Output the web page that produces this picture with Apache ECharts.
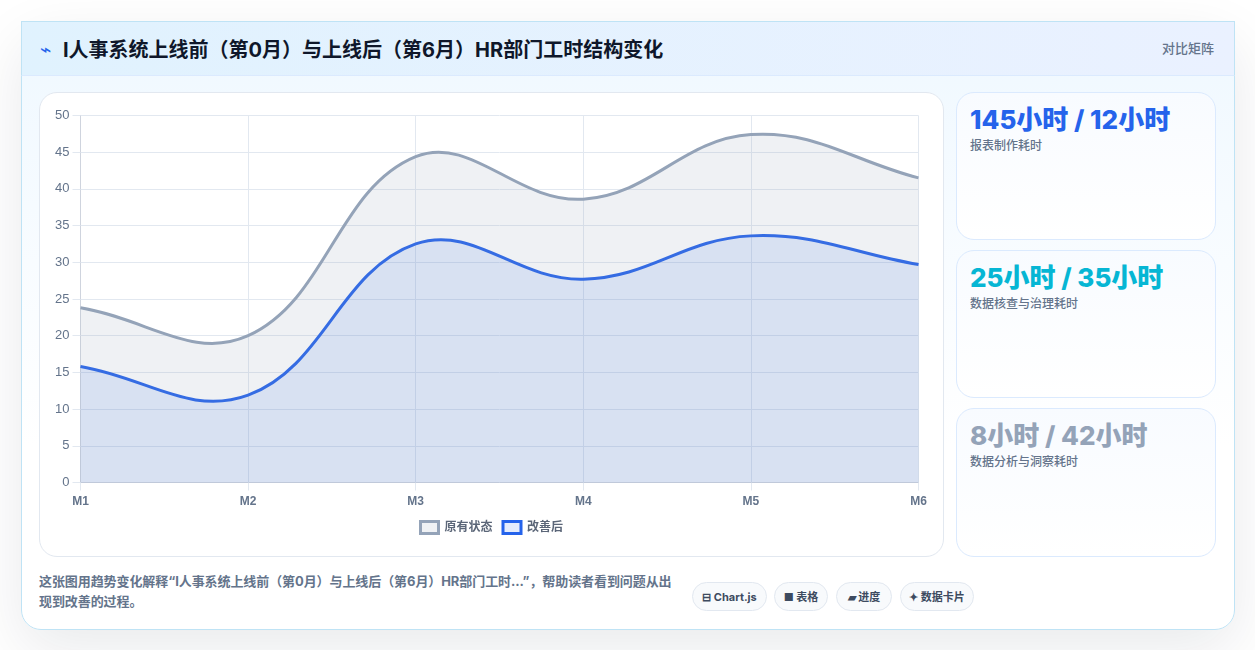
<!DOCTYPE html>
<html lang="zh-CN">
<head>
<meta charset="utf-8">
<title>HR部门工时结构变化</title>
<script src="https://cdn.jsdelivr.net/npm/echarts@6/dist/echarts.min.js"></script>
<style>
  * { box-sizing: border-box; margin: 0; padding: 0; }
  html, body { width: 1255px; height: 650px; background: #fff; overflow: hidden;
    font-family: Inter, "Noto Sans CJK SC", sans-serif; }
  .card { position: absolute; left: 21px; top: 21px; width: 1214px; height: 609px;
    border: 1px solid #bfe3f5; border-radius: 20px;
    background: linear-gradient(180deg, #eff8ff 0%, #ffffff 70%);
    box-shadow: 0 20px 60px rgba(15, 23, 42, 0.09); }
  .head { position: absolute; left: -1px; top: -1px; width: 1214px; height: 55px;
    background: linear-gradient(90deg, #e0f2fe 0%, #eaf1ff 100%);
    border-top: 1px solid #bfe3f5; border-right: 1px solid #bfe3f5; border-left: 1px solid #bfe3f5;
    border-bottom: 1px solid #dbeafe; }
  .head .spark { position: absolute; left: 18px; top: 14px; font-size: 19px; line-height: 28px; color: #2563eb; font-weight: 400; }
  .head h1 { position: absolute; left: 41px; top: 14px; font-size: 20px; line-height: 28px; font-weight: 700; color: #0f172a; white-space: nowrap; }
  .head .tag { position: absolute; right: 20px; top: 16px; font-size: 13px; line-height: 20px; font-weight: 500; color: #64748b; }
  .panel { position: absolute; left: 39px; top: 92px; width: 905px; height: 465px;
    background: #fff; border: 1px solid #e2e8f0; border-radius: 18px; }
  #chart { position: absolute; left: 0; top: 0; width: 903px; height: 463px; }
  .stat { position: absolute; left: 956px; width: 260px; border: 1px solid #dbeafe; border-radius: 18px;
    background: linear-gradient(180deg, #f8fbff 0%, #ffffff 100%); }
  .stat b { position: absolute; left: 13px; top: 7px; font-size: 26px; line-height: 40px; font-weight: 800; white-space: nowrap; }
  .stat span { position: absolute; left: 13px; top: 44px; font-size: 12px; line-height: 18px; font-weight: 500; color: #64748b; white-space: nowrap; }
  .note { position: absolute; left: 39px; top: 571px; width: 640px; font-size: 13px; line-height: 20px; font-weight: 700; color: #64748b; letter-spacing: -0.08px; }
  .pill { position: absolute; top: 582px; height: 29px; border: 1px solid #e2e8f0; border-radius: 15px; background: #f8fafc;
    font-size: 11px; line-height: 28px; font-weight: 700; color: #3d4b60; text-align: center; white-space: nowrap; }
</style>
</head>
<body>
<div class="card">
  <div class="head">
    <span class="spark">⌁</span>
    <h1>I人事系统上线前（第0月）与上线后（第6月）HR部门工时结构变化</h1>
    <span class="tag">对比矩阵</span>
  </div>
</div>
<div class="panel"><div id="chart"></div></div>
<div class="stat" style="top:92px;height:148px"><b style="color:#2563eb">145小时 / 12小时</b><span>报表制作耗时</span></div>
<div class="stat" style="top:250px;height:148px"><b style="color:#06b6d4">25小时 / 35小时</b><span>数据核查与治理耗时</span></div>
<div class="stat" style="top:408px;height:149px"><b style="color:#94a3b8">8小时 / 42小时</b><span>数据分析与洞察耗时</span></div>
<p class="note">这张图用趋势变化解释“I人事系统上线前（第0月）与上线后（第6月）HR部门工时...”，帮助读者看到问题从出现到改善的过程。</p>
<div class="pill" style="left:692px;width:75px">⊟ Chart.js</div>
<div class="pill" style="left:774px;width:54px">■ 表格</div>
<div class="pill" style="left:836px;width:56px">▰ 进度</div>
<div class="pill" style="left:900px;width:74px">✦ 数据卡片</div>

<script>
  const months = ['M1', 'M2', 'M3', 'M4', 'M5', 'M6'];
  const baselineHours = [23.8, 20.0, 44.4, 38.6, 47.4, 41.5];
  const improvedHours = [15.8, 11.9, 32.5, 27.7, 33.6, 29.7];
  const TENSION = 0.4;

  // Cardinal spline through the points; tangents follow the neighbouring
  // points, so a curve can crest slightly off its data point.
  function splinePath(points) {
    const before = [], after = [];
    points.forEach((p, i) => {
      const prev = points[i - 1] || p, next = points[i + 1] || p;
      const d01 = Math.hypot(p[0] - prev[0], p[1] - prev[1]);
      const d12 = Math.hypot(next[0] - p[0], next[1] - p[1]);
      const total = d01 + d12 || 1;
      const fa = TENSION * d01 / total, fb = TENSION * d12 / total;
      before.push([p[0] - fa * (next[0] - prev[0]), p[1] - fa * (next[1] - prev[1])]);
      after.push([p[0] + fb * (next[0] - prev[0]), p[1] + fb * (next[1] - prev[1])]);
    });
    let d = 'M' + points[0][0] + ' ' + points[0][1];
    for (let i = 1; i < points.length; i++) {
      d += ' C' + after[i - 1].join(' ') + ' ' + before[i].join(' ') + ' ' + points[i].join(' ');
    }
    return d;
  }

  function areaLine(name, values, lineColor, fillColor, z) {
    return {
      name, type: 'custom', z,
      coordinateSystem: 'cartesian2d',
      clip: false,
      silent: true,
      itemStyle: { color: fillColor, borderColor: lineColor, borderWidth: 3 },
      encode: { x: 0, y: 1 },
      data: values.map((v, i) => [i, v]),
      renderItem(params, api) {
        if (params.dataIndex !== 0) return null;
        const pts = values.map((v, i) => api.coord([i, v]));
        const floor = api.coord([0, 0])[1];
        const line = splinePath(pts);
        const last = pts[pts.length - 1];
        return {
          type: 'group',
          children: [
            { type: 'path',
              shape: { pathData: line + ' L' + last[0] + ' ' + floor + ' L' + pts[0][0] + ' ' + floor + ' Z' },
              style: { fill: fillColor, stroke: null } },
            { type: 'path',
              shape: { pathData: line },
              style: { fill: null, stroke: lineColor, lineWidth: 3, lineCap: 'butt', lineJoin: 'round' } }
          ]
        };
      }
    };
  }

  const chart = echarts.init(document.getElementById('chart'), null, { renderer: 'canvas' });
  const labelFont = '"Liberation Sans", "Noto Sans CJK SC", sans-serif';

  chart.setOption({
    animation: false,
    backgroundColor: 'transparent',
    grid: { left: 40.5, top: 22.5, width: 838, height: 367 },
    xAxis: {
      type: 'category', data: months, boundaryGap: false,
      axisLine: { show: true, lineStyle: { color: '#cfd4de', width: 1 } },
      axisTick: { show: true, length: 8, alignWithLabel: true, lineStyle: { color: '#e2e8f0' } },
      axisLabel: { margin: 13, fontFamily: labelFont, fontSize: 12, fontWeight: 700, color: '#64748b', showMinLabel: true, showMaxLabel: true, hideOverlap: false, interval: 0 },
      splitLine: { show: true, lineStyle: { color: '#e2e8f0', width: 1 } }
    },
    yAxis: {
      type: 'value', min: 0, max: 50, interval: 5,
      axisLine: { show: true, lineStyle: { color: '#cfd4de', width: 1 } },
      axisTick: { show: true, length: 8, lineStyle: { color: '#e2e8f0' } },
      axisLabel: { margin: 11, fontFamily: labelFont, fontSize: 13, color: '#64748b' },
      splitLine: { show: true, lineStyle: { color: '#e2e8f0', width: 1 } }
    },
    legend: {
      left: 374, top: 422, itemWidth: 18, itemHeight: 12, itemGap: 9,
      icon: 'rect', selectedMode: false,
      textStyle: { fontFamily: labelFont, fontSize: 12, fontWeight: 700, color: '#5b6678', padding: [0, 0, 0, 1] },
      data: [
        { name: '原有状态', itemStyle: { color: 'rgba(148,163,184,0.15)', borderColor: '#94a3b8', borderWidth: 3 } },
        { name: '改善后', itemStyle: { color: 'rgba(37,99,235,0.12)', borderColor: '#2563eb', borderWidth: 3 } }
      ]
    },
    // The first series paints last, so its translucent fill washes over the second.
    series: [
      areaLine('原有状态', baselineHours, '#94a3b8', 'rgba(148,163,184,0.15)', 3),
      areaLine('改善后', improvedHours, '#2563eb', 'rgba(37,99,235,0.12)', 2)
    ]
  });
</script>
</body>
</html>
